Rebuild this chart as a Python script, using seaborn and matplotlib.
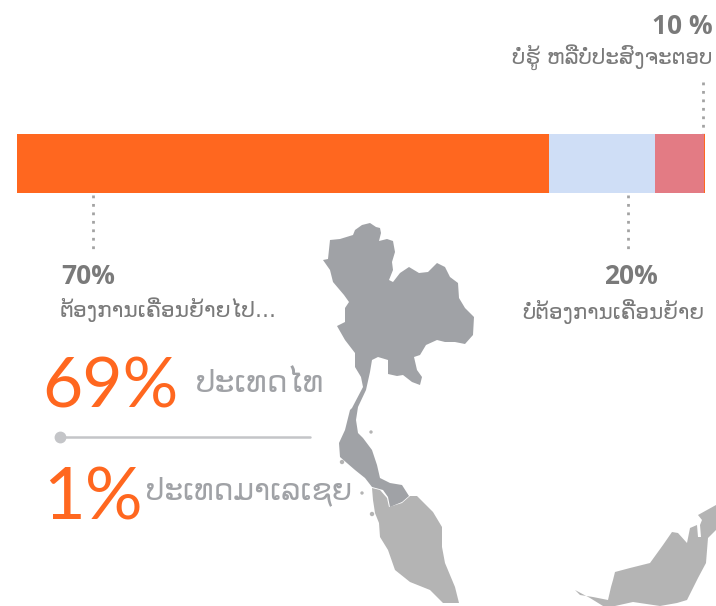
import numpy as np
import matplotlib
matplotlib.use('Agg')
import matplotlib.pyplot as plt
import seaborn as sns

# bar segments (the labels say 70 / 20 / 10)
segments = ['want_move', 'stay', 'unsure', 'sliver']
seg_values = [77.3, 15.4, 7.1, 0.2]
seg_colors = ['#ff671f', '#cfdef6', '#e37b84', '#ff671f']

# labels
pct_unsure = '10 %'
txt_unsure = 'ບໍ່ຮູ້ ຫລືບໍ່ປະສົງຈະຕອບ'
pct_move = '70%'
txt_move = 'ຕ້ອງການເຄື່ອນຍ້າຍໄປ...'
pct_stay = '20%'
txt_stay = 'ບໍ່ຕ້ອງການເຄື່ອນຍ້າຍ'
pct_thai = '69%'
txt_thai = 'ປະເທດໄທ'
pct_malay = '1%'
txt_malay = 'ປະເທດມາເລເຊຍ'

# map outlines, traced in image pixels
thai_x = [362, 370, 376, 380, 381, 379, 387, 393, 395, 392, 393, 389, 393, 400, 409, 419, 428, 437,
          445, 450, 458, 459, 465, 474, 473, 465, 455, 445, 437, 426, 420, 414, 417, 422, 420, 412,
          403, 397, 388, 388, 378, 372, 370, 366, 358, 356, 358, 363, 372, 377, 380, 390, 402, 409,
          402, 390, 388, 383, 372, 365, 355, 340, 339, 345, 350, 352, 363, 361, 355, 355, 345, 337,
          345, 345, 349, 344, 333, 330, 323, 328, 330, 340, 353, 355]
thai_y = [225, 223, 227, 228, 233, 241, 239, 241, 252, 262, 270, 280, 282, 273, 267, 273, 272, 263,
          267, 277, 283, 298, 308, 317, 335, 344, 342, 342, 340, 345, 355, 357, 370, 377, 385, 382,
          375, 376, 374, 360, 357, 360, 372, 390, 407, 420, 433, 438, 450, 465, 478, 483, 485, 496,
          502, 507, 497, 490, 487, 478, 470, 457, 443, 430, 410, 408, 387, 377, 367, 353, 340, 326,
          322, 308, 302, 295, 282, 270, 260, 259, 240, 239, 235, 230]
malay_x = [372, 380, 387, 389, 402, 410, 417, 433, 442, 442, 445, 455, 459, 443, 430, 410, 395, 388,
           380, 379, 375, 373]
malay_y = [488, 490, 498, 507, 503, 496, 496, 512, 527, 547, 563, 587, 603, 603, 590, 582, 570, 550,
           537, 523, 513, 500]
borneo_x = [575, 580, 593, 608, 611, 613, 615, 630, 650, 663, 672, 678, 687, 690, 697, 698, 701, 700,
            702, 698, 707, 716, 716, 708, 706, 698, 687, 677, 660, 633, 615, 603, 590]
borneo_y = [590, 595, 597, 600, 587, 580, 572, 568, 563, 545, 532, 533, 543, 528, 525, 537, 537, 525,
            520, 515, 510, 505, 530, 538, 563, 578, 600, 603, 606, 602, 606, 606, 598]
# small islands off the peninsula
island_x = [371, 342, 362, 372]
island_y = [432, 462, 493, 514]
island_s = [6, 10, 6, 10]

fig = plt.figure(figsize=(7.16, 6.06), dpi=100)
sns.set_style('white')
plt.rcParams['font.family'] = ['Open Sans', 'DejaVu Sans']

# page axes in pixel units for the map and the annotations
ax = fig.add_axes([0, 0, 1, 1])
ax.set_xlim(0, 716)
ax.set_ylim(606, 0)
ax.axis('off')

ax.fill(malay_x, malay_y, color='#b4b4b4', lw=0, zorder=1)
ax.fill(borneo_x, borneo_y, color='#b4b4b4', lw=0, zorder=1)
ax.fill(thai_x, thai_y, facecolor='#a0a2a6', edgecolor='none', zorder=2)
ax.scatter(island_x, island_y, s=island_s, color='#b4b4b4', lw=0, zorder=2)

# dotted leaders
dot_color = '#a3a3a3'
for x, y0, y1 in [(93, 195, 252), (628, 195, 252), (703, 82, 133)]:
    ax.plot([x, x], [y0, y1], color=dot_color, lw=2, ls=(0, (1, 2.05)), zorder=3)

# slider line between the two countries
ax.plot([60, 310], [437, 437], color='#c4c5c8', lw=1.8, zorder=3)
ax.plot([60], [437], 'o', color='#c4c5c8', ms=7.5, zorder=3)

# stacked bar: cumulative bars drawn from the longest down
bar_ax = fig.add_axes([17 / 716, 1 - 193 / 606, 688 / 716, 59 / 606])
cum = np.cumsum(seg_values)
for i in range(len(segments) - 1, -1, -1):
    sns.barplot(x=[cum[i]], y=['share'], color=seg_colors[i], saturation=1, width=1,
                linewidth=0, ax=bar_ax)
bar_ax.set_xlim(0, cum[-1])
bar_ax.set_ylim(0.5, -0.5)
bar_ax.axis('off')

gray = '#7a7a7a'
orange = '#ff671f'
light = '#a0a2a6'
lao = ['DejaVu Sans']
big = ['Lato', 'DejaVu Sans']
ax.text(713, 26, pct_unsure, fontsize=19, fontweight='bold', color=gray, ha='right', va='center')
ax.text(712, 57, txt_unsure, fontsize=15.5, color=gray, ha='right', va='center', family=lao)
ax.text(61, 277, pct_move, fontsize=19, fontweight='bold', color=gray, ha='left', va='center')
ax.text(60, 310, txt_move, fontsize=15.7, color=gray, ha='left', va='center', family=lao)
ax.text(604, 277, pct_stay, fontsize=19, fontweight='bold', color=gray, ha='left', va='center')
ax.text(704, 311, txt_stay, fontsize=15.4, color=gray, ha='right', va='center', family=lao)
ax.text(42, 388, pct_thai, fontsize=50, color=orange, ha='left', va='center', family=big)
ax.text(196, 384, txt_thai, fontsize=22.5, color=light, ha='left', va='center', family=lao)
ax.text(43, 499, pct_malay, fontsize=52, color=orange, ha='left', va='center', family=big)
ax.text(146, 491, txt_malay, fontsize=21.3, color=light, ha='left', va='center', family=lao)

fig.savefig('out.png', dpi=100)
